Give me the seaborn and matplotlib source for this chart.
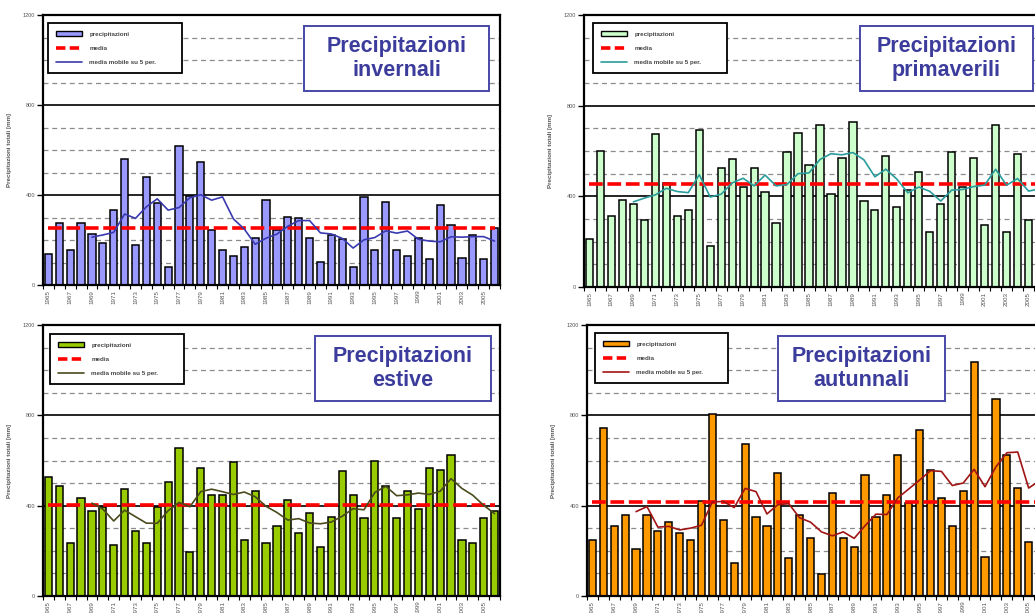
import numpy as np
import pandas as pd
import matplotlib
matplotlib.use("Agg")
import matplotlib.pyplot as plt
import seaborn as sns
from matplotlib.patches import Patch, Rectangle
from matplotlib.lines import Line2D

# ---- data (mm per season) ----
years = list(range(1965, 2007))

winter = [136, 274, 154, 274, 225, 185, 332, 561, 178, 481,
          363, 81, 618, 396, 547, 243, 154, 129, 170, 209,
          378, 245, 304, 296, 209, 104, 221, 206, 81, 393,
          154, 370, 154, 129, 209, 114, 354, 265, 121, 221,
          114, 255]
spring = [212, 601, 315, 386, 364, 295, 673, 459, 315, 339,
          691, 180, 523, 563, 442, 523, 418, 284, 595, 680,
          540, 714, 411, 571, 730, 380, 339, 579, 353, 427,
          507, 244, 364, 595, 442, 571, 275, 714, 244, 588,
          295, 320]
summer = [528, 487, 233, 432, 376, 396, 224, 472, 288, 233,
          393, 503, 654, 193, 568, 447, 447, 592, 248, 465,
          233, 311, 424, 280, 369, 215, 351, 552, 447, 344,
          599, 487, 344, 465, 384, 568, 559, 623, 248, 233,
          344, 376]
autumn = [248, 742, 311, 359, 208, 359, 288, 328, 280, 248,
          422, 806, 337, 145, 672, 351, 311, 543, 167, 359,
          255, 96, 455, 255, 215, 536, 351, 447, 624, 410,
          735, 558, 432, 311, 465, 1038, 174, 871, 624, 480,
          241, 337]

season_titles = ["Precipitazioni\ninvernali", "Precipitazioni\nprimaverili",
                 "Precipitazioni\nestive", "Precipitazioni\nautunnali"]
bar_colors = ["#9999ff", "#ccffcc", "#99cc00", "#ff9900"]
ma_colors = ["#3a3ab0", "#2a9c9c", "#4a4a1c", "#a01414"]
legend_labels = ["precipitazioni", "media", "media mobile su 5 per."]
y_ticks = [0, 400, 800, 1200]
y_label = "Precipitazioni totali [mm]"

W, H = 1035, 613
sns.set_theme(style="white")
plt.rcParams["font.family"] = ["Liberation Sans", "DejaVu Sans"]

fig = plt.figure(figsize=(W / 100, H / 100), dpi=100)

# pixel layout: axes (left, top, width, height), title box (x0, y0, x1, y1),
# legend box (x0, y0, x1, y1)
layout = [
    dict(rect=(43, 15, 457, 270), box=(304, 26, 489, 91), leg=(48, 23, 182, 74)),
    dict(rect=(584, 15, 461, 272), box=(860, 26, 1033, 91), leg=(593, 23, 727, 73)),
    dict(rect=(43, 325, 457, 271), box=(315, 336, 491, 401), leg=(50, 334, 184, 386)),
    dict(rect=(587, 325, 458, 271), box=(778, 336, 945, 401), leg=(595, 333, 728, 383)),
]

series = [winter, spring, summer, autumn]
mean_dash = (0, (3.8, 1.3))

for vals, title, bc, mc, lay in zip(series, season_titles, bar_colors, ma_colors, layout):
    l, t, w, h = lay["rect"]
    ax = fig.add_axes([l / W, 1 - (t + h) / H, w / W, h / H])
    ax.set_axisbelow(True)

    df = pd.DataFrame({"anno": years, "mm": vals})
    sns.barplot(data=df, x="anno", y="mm", native_scale=True, color=bc,
                saturation=1, width=0.66, edgecolor="black", linewidth=1.1,
                ax=ax, zorder=2)

    mean_val = float(np.mean(vals))
    ma = pd.Series(vals, index=years).rolling(5).mean()
    ax.hlines(mean_val, years[0], years[-1], colors="#ff0000", lw=2.6,
              linestyles=mean_dash, zorder=3)
    ax.plot(ma.index, ma.values, color=mc, lw=1.2, zorder=4)

    ax.set_xlim(years[0] - 0.5, years[-1] + 0.5)
    ax.set_ylim(0, 1200)
    ax.set_yticks(y_ticks)
    ax.set_yticklabels([str(v) for v in y_ticks])
    ax.set_yticks(np.arange(0, 1201, 100), minor=True)
    ax.grid(which="major", axis="y", color="black", lw=1.2, ls="-")
    ax.grid(which="minor", axis="y", color="#8c8c8c", lw=0.9, ls=(0, (4, 3)))
    ax.grid(axis="x", visible=False)

    ax.set_xticks(years[::2])
    ax.set_xticklabels([str(y) for y in years[::2]], rotation=90, fontsize=4.5,
                       color="#555555")
    ax.set_xticks(np.arange(years[0] - 0.5, years[-1] + 1, 1), minor=True)
    ax.tick_params(axis="x", which="major", length=0, pad=3.5)
    ax.tick_params(axis="x", which="minor", length=3, width=0.8, color="black",
                   direction="out", bottom=True)
    ax.tick_params(axis="y", which="major", length=4, width=1, color="black",
                   labelsize=4, labelcolor="#555555", pad=1.5, left=True)
    ax.tick_params(axis="y", which="minor", length=0)

    ax.set_xlabel("")
    ax.set_ylabel(y_label, fontsize=4.5, fontweight="bold", color="#555555")
    ax.yaxis.set_label_coords(-31 / w, 0.5)

    for sp in ax.spines.values():
        sp.set_color("black")
        sp.set_linewidth(1.6)

    handles = [
        Patch(facecolor=bc, edgecolor="black", linewidth=1.0),
        Line2D([], [], color="#ff0000", lw=2.6, ls=(0, (2.6, 1.2))),
        Line2D([], [], color=mc, lw=1.2),
    ]
    lx0, ly0, lx1, ly1 = lay["leg"]
    leg = ax.legend(handles, legend_labels, loc="upper left", mode="expand",
                    bbox_to_anchor=(lx0 / W, 1 - ly1 / H, (lx1 - lx0) / W, (ly1 - ly0) / H),
                    bbox_transform=fig.transFigure,
                    fontsize=4.5, frameon=True, fancybox=False, framealpha=1,
                    borderaxespad=0, borderpad=1.3, labelspacing=1.35,
                    handlelength=4.2, handleheight=0.9, handletextpad=1.1)
    leg.get_frame().set_edgecolor("black")
    leg.get_frame().set_linewidth(1.3)
    for txt in leg.get_texts():
        txt.set_color("#444444")
        txt.set_fontweight("bold")

    # title box
    x0, y0, x1, y1 = lay["box"]
    fig.add_artist(Rectangle((x0 / W, 1 - y1 / H), (x1 - x0) / W, (y1 - y0) / H,
                             transform=fig.transFigure, facecolor="white",
                             edgecolor="#4848a8", lw=1.4, zorder=5))
    fig.text((x0 + x1) / 2 / W, 1 - (y0 + y1) / 2 / H, title,
             ha="center", va="center", fontsize=15.5, fontweight="bold",
             color="#3c3c9c", linespacing=1.15, zorder=6)

fig.savefig("out.png", dpi=100)
